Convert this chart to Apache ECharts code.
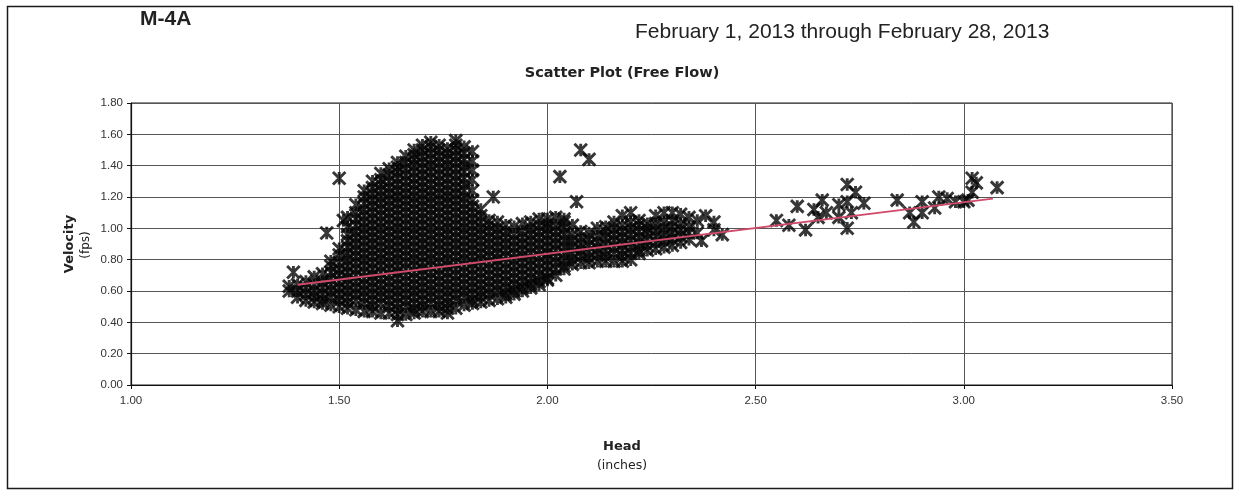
<!DOCTYPE html>
<html>
<head>
<meta charset="utf-8">
<title>M-4A Scatter Plot (Free Flow)</title>
<script src="https://cdn.jsdelivr.net/npm/echarts@6/dist/echarts.min.js"></script>
<style>
  html, body { margin: 0; padding: 0; background: #fff; }
  #chart { width: 1240px; height: 498px; }
</style>
</head>
<body>
<div id="chart"></div>
<script>
// Axis ticks
const headTicks = [1.00, 1.50, 2.00, 2.50, 3.00, 3.50];
const velocityTicks = [0.00, 0.20, 0.40, 0.60, 0.80, 1.00, 1.20, 1.40, 1.60, 1.80];

// Main cloud of readings, low-head part (head, [velocities])
const peakColumns = [
  [1.38, [0.60, 0.63]],
  [1.40, [0.56, 0.60, 0.64]],
  [1.42, [0.54, 0.58, 0.62, 0.66]],
  [1.44, [0.53, 0.56, 0.60, 0.64, 0.69]],
  [1.46, [0.52, 0.54, 0.58, 0.62, 0.66, 0.71]],
  [1.48, [0.51, 0.56, 0.60, 0.64, 0.68, 0.72, 0.76, 0.79]],
  [1.50, [0.50, 0.54, 0.58, 0.62, 0.66, 0.70, 0.74, 0.78, 0.83, 0.87]],
  [1.52, [0.49, 0.52, 0.56, 0.60, 0.64, 0.68, 0.72, 0.76, 0.80, 0.84, 0.88, 0.92, 0.96, 1.01, 1.07]],
  [1.54, [0.48, 0.54, 0.58, 0.62, 0.66, 0.70, 0.74, 0.78, 0.82, 0.86, 0.90, 0.94, 0.98, 1.02, 1.06, 1.10, 1.15]],
  [1.56, [0.47, 0.52, 0.56, 0.60, 0.64, 0.68, 0.72, 0.76, 0.80, 0.84, 0.88, 0.92, 0.96, 1.00, 1.04, 1.08, 1.12, 1.16, 1.20, 1.24]],
  [1.58, [0.47, 0.50, 0.54, 0.58, 0.62, 0.66, 0.70, 0.74, 0.78, 0.82, 0.86, 0.90, 0.94, 0.98, 1.02, 1.06, 1.10, 1.14, 1.18, 1.22, 1.26, 1.30]],
  [1.60, [0.46, 0.52, 0.56, 0.60, 0.64, 0.68, 0.72, 0.76, 0.80, 0.84, 0.88, 0.92, 0.96, 1.00, 1.04, 1.08, 1.12, 1.16, 1.20, 1.24, 1.28, 1.31, 1.35]],
  [1.62, [0.46, 0.50, 0.54, 0.58, 0.62, 0.66, 0.70, 0.74, 0.78, 0.82, 0.86, 0.90, 0.94, 0.98, 1.02, 1.06, 1.10, 1.14, 1.18, 1.22, 1.26, 1.30, 1.34, 1.38]],
  [1.64, [0.41, 0.45, 0.48, 0.52, 0.56, 0.60, 0.64, 0.68, 0.72, 0.76, 0.80, 0.84, 0.88, 0.92, 0.96, 1.00, 1.04, 1.08, 1.12, 1.16, 1.20, 1.24, 1.28, 1.32, 1.36, 1.39, 1.42]],
  [1.66, [0.45, 0.50, 0.54, 0.58, 0.62, 0.66, 0.70, 0.74, 0.78, 0.82, 0.86, 0.90, 0.94, 0.98, 1.02, 1.06, 1.10, 1.14, 1.18, 1.22, 1.26, 1.30, 1.34, 1.38, 1.42, 1.46]],
  [1.68, [0.46, 0.48, 0.52, 0.56, 0.60, 0.64, 0.68, 0.72, 0.76, 0.80, 0.84, 0.88, 0.92, 0.96, 1.00, 1.04, 1.08, 1.12, 1.16, 1.20, 1.24, 1.28, 1.32, 1.36, 1.40, 1.44, 1.47, 1.50]],
  [1.70, [0.47, 0.50, 0.54, 0.58, 0.62, 0.66, 0.70, 0.74, 0.78, 0.82, 0.86, 0.90, 0.94, 0.98, 1.02, 1.06, 1.10, 1.14, 1.18, 1.22, 1.26, 1.30, 1.34, 1.38, 1.42, 1.46, 1.50, 1.53]],
  [1.72, [0.47, 0.52, 0.56, 0.60, 0.64, 0.68, 0.72, 0.76, 0.80, 0.84, 0.88, 0.92, 0.96, 1.00, 1.04, 1.08, 1.12, 1.16, 1.20, 1.24, 1.28, 1.32, 1.36, 1.40, 1.44, 1.48, 1.52, 1.55]],
  [1.74, [0.47, 0.50, 0.54, 0.58, 0.62, 0.66, 0.70, 0.74, 0.78, 0.82, 0.86, 0.90, 0.94, 0.98, 1.02, 1.06, 1.10, 1.14, 1.18, 1.22, 1.26, 1.30, 1.34, 1.38, 1.42, 1.46, 1.50, 1.53]],
  [1.76, [0.46, 0.49, 0.52, 0.56, 0.60, 0.64, 0.68, 0.72, 0.76, 0.80, 0.84, 0.88, 0.92, 0.96, 1.00, 1.04, 1.08, 1.12, 1.16, 1.20, 1.24, 1.28, 1.32, 1.36, 1.40, 1.44, 1.48, 1.51]],
  [1.78, [0.49, 0.54, 0.58, 0.62, 0.66, 0.70, 0.74, 0.78, 0.82, 0.86, 0.90, 0.94, 0.98, 1.02, 1.06, 1.10, 1.14, 1.18, 1.22, 1.26, 1.30, 1.34, 1.38, 1.42, 1.46, 1.50, 1.53, 1.56]],
  [1.80, [0.51, 0.56, 0.60, 0.64, 0.68, 0.72, 0.76, 0.80, 0.84, 0.88, 0.92, 0.96, 1.00, 1.04, 1.08, 1.12, 1.16, 1.20, 1.24, 1.28, 1.32, 1.36, 1.40, 1.44, 1.48, 1.52]],
  [1.82, [0.52, 0.54, 0.58, 0.62, 0.66, 0.70, 0.74, 0.78, 0.82, 0.86, 0.90, 0.94, 0.98, 1.02, 1.06, 1.10, 1.14, 1.18, 1.24, 1.31, 1.37, 1.43, 1.49]]
];

// Main cloud, shelf toward higher head
const shelfColumns = [
  [1.84, [0.53, 0.56, 0.60, 0.64, 0.68, 0.72, 0.76, 0.80, 0.84, 0.88, 0.92, 0.96, 1.00, 1.04, 1.08, 1.12]],
  [1.86, [0.54, 0.58, 0.62, 0.66, 0.70, 0.74, 0.78, 0.82, 0.86, 0.90, 0.94, 0.98, 1.02, 1.05]],
  [1.88, [0.55, 0.60, 0.64, 0.68, 0.72, 0.76, 0.80, 0.84, 0.88, 0.92, 0.96, 1.00, 1.04]],
  [1.90, [0.56, 0.58, 0.62, 0.66, 0.70, 0.74, 0.78, 0.82, 0.86, 0.90, 0.94, 0.98, 1.02]],
  [1.92, [0.58, 0.60, 0.64, 0.68, 0.72, 0.76, 0.80, 0.84, 0.88, 0.92, 0.96, 1.01]],
  [1.94, [0.60, 0.62, 0.66, 0.70, 0.74, 0.78, 0.82, 0.86, 0.90, 0.94, 0.98, 1.03]],
  [1.96, [0.62, 0.64, 0.68, 0.72, 0.76, 0.80, 0.84, 0.88, 0.92, 0.96, 1.00, 1.04]],
  [1.98, [0.64, 0.66, 0.70, 0.74, 0.78, 0.82, 0.86, 0.90, 0.94, 0.98, 1.02, 1.06]],
  [2.00, [0.67, 0.68, 0.72, 0.76, 0.80, 0.84, 0.88, 0.92, 0.96, 1.00, 1.03, 1.06]],
  [2.02, [0.70, 0.74, 0.78, 0.82, 0.86, 0.90, 0.94, 0.98, 1.02, 1.07]],
  [2.04, [0.74, 0.76, 0.80, 0.84, 0.88, 0.92, 0.96, 1.00, 1.04, 1.06]],
  [2.06, [0.77, 0.80, 0.84, 0.88, 0.92, 0.96, 1.02]],
  [2.08, [0.78, 0.82, 0.86, 0.90, 0.94, 0.98]],
  [2.10, [0.78, 0.81, 0.85, 0.89, 0.93, 0.97]],
  [2.12, [0.79, 0.83, 0.87, 0.91, 0.95, 1.00]],
  [2.14, [0.79, 0.82, 0.86, 0.90, 0.94, 0.98, 1.01]],
  [2.16, [0.79, 0.84, 0.88, 0.92, 0.96, 1.00, 1.04]],
  [2.18, [0.79, 0.82, 0.86, 0.90, 0.94, 0.98, 1.02, 1.08]],
  [2.20, [0.80, 0.84, 0.88, 0.92, 0.96, 1.00, 1.04, 1.10]],
  [2.22, [0.84, 0.86, 0.90, 0.94, 0.98, 1.02, 1.05]],
  [2.24, [0.86, 0.89, 0.93, 0.97, 1.00, 1.03]],
  [2.26, [0.87, 0.91, 0.95, 0.99, 1.03, 1.08]],
  [2.28, [0.88, 0.92, 0.96, 1.00, 1.04, 1.10]],
  [2.30, [0.89, 0.93, 0.97, 1.01, 1.05, 1.10]],
  [2.32, [0.91, 0.95, 0.99, 1.03, 1.09]],
  [2.34, [0.93, 0.97, 1.01, 1.07]]
];

// Scattered individual readings around the cloud
const strayPoints = [
  [1.39, 0.72], [1.47, 0.97], [1.50, 1.32], [1.51, 1.05], [1.87, 1.20],
  [2.03, 1.33], [2.07, 1.17], [2.08, 1.50], [2.10, 1.44],
  [2.36, 0.97], [2.36, 1.05], [2.37, 0.92], [2.38, 1.08], [2.40, 1.04],
  [2.40, 0.99], [2.42, 0.96]
];

// Readings at high head
const highHeadPoints = [
  [2.55, 1.05], [2.58, 1.02], [2.60, 1.14], [2.62, 0.99], [2.64, 1.12],
  [2.66, 1.18], [2.65, 1.07], [2.67, 1.10], [2.70, 1.15], [2.70, 1.07],
  [2.72, 1.28], [2.74, 1.23], [2.72, 1.17], [2.73, 1.10], [2.72, 1.00],
  [2.76, 1.16], [2.84, 1.18], [2.87, 1.10], [2.88, 1.04], [2.90, 1.10],
  [2.90, 1.17], [2.93, 1.13], [2.94, 1.20], [2.96, 1.19], [2.98, 1.17],
  [3.00, 1.17], [3.01, 1.18], [3.02, 1.23], [3.02, 1.32], [3.03, 1.29],
  [3.08, 1.26]
];

// Linear trend through the readings
const trendLine = [[1.40, 0.64], [3.07, 1.19]];

function expandColumns(columns) {
  const points = [];
  columns.forEach(([head, velocities]) => {
    velocities.forEach(v => points.push([head, v]));
  });
  return points;
}

const readings = expandColumns(peakColumns)
  .concat(expandColumns(shelfColumns))
  .concat(strayPoints)
  .concat(highHeadPoints);

const chart = echarts.init(document.getElementById('chart'), null, { renderer: 'canvas' });

const tickFont = { fontFamily: 'Liberation Sans', fontSize: 11.5, color: '#333' };
const gridLine = { show: true, lineStyle: { color: '#555', width: 1 } };

const option = {
  animation: false,
  backgroundColor: '#ffffff',
  grid: {
    left: 131, right: 68, top: 103, bottom: 113,
    show: true, borderColor: '#1a1a1a', borderWidth: 1, backgroundColor: 'transparent'
  },
  xAxis: {
    type: 'value',
    min: headTicks[0], max: headTicks[headTicks.length - 1], interval: 0.5,
    axisLine: { show: true, onZero: false, lineStyle: { color: '#111', width: 1.2 } },
    axisTick: { show: true, length: 4, lineStyle: { color: '#111' } },
    axisLabel: Object.assign({ margin: 10, formatter: v => v.toFixed(2) }, tickFont),
    splitLine: gridLine
  },
  yAxis: {
    type: 'value',
    min: velocityTicks[0], max: velocityTicks[velocityTicks.length - 1], interval: 0.2,
    axisLine: { show: true, onZero: false, lineStyle: { color: '#111', width: 1.2 } },
    axisTick: { show: true, length: 4, lineStyle: { color: '#111' } },
    axisLabel: Object.assign({ margin: 8, formatter: v => v.toFixed(2) }, tickFont),
    splitLine: gridLine
  },
  graphic: [
    { type: 'rect', shape: { x: 7.5, y: 6.5, width: 1225, height: 482 },
      style: { fill: 'none', stroke: '#1a1a1a', lineWidth: 1.5 }, silent: true, z: 0 },
    { type: 'text', x: 140, y: 19,
      style: { text: 'M-4A', font: 'bold 21px "Liberation Sans"', fill: '#222', textAlign: 'left', textVerticalAlign: 'middle' } },
    { type: 'text', x: 635, y: 32,
      style: { text: 'February 1, 2013 through February 28, 2013', font: '21px "Liberation Sans"', fill: '#222', textAlign: 'left', textVerticalAlign: 'middle' } },
    { type: 'text', x: 622, y: 73,
      style: { text: 'Scatter Plot (Free Flow)', font: 'bold 14.5px "DejaVu Sans"', fill: '#222', textAlign: 'center', textVerticalAlign: 'middle' } },
    { type: 'text', x: 70, y: 244, rotation: Math.PI / 2,
      style: { text: 'Velocity', font: 'bold 13px "DejaVu Sans"', fill: '#222', textAlign: 'center', textVerticalAlign: 'middle' } },
    { type: 'text', x: 86, y: 245, rotation: Math.PI / 2,
      style: { text: '(fps)', font: '12px "DejaVu Sans"', fill: '#222', textAlign: 'center', textVerticalAlign: 'middle' } },
    { type: 'text', x: 622, y: 447,
      style: { text: 'Head', font: 'bold 13px "DejaVu Sans"', fill: '#222', textAlign: 'center', textVerticalAlign: 'middle' } },
    { type: 'text', x: 622, y: 466,
      style: { text: '(inches)', font: '12.5px "DejaVu Sans"', fill: '#222', textAlign: 'center', textVerticalAlign: 'middle' } }
  ],
  series: [
    {
      name: 'Velocity',
      type: 'scatter',
      data: readings,
      symbol: 'path://M0,0L10,10M10,0L0,10M5,0L5,10',
      symbolSize: 12.5,
      symbolKeepAspect: true,
      itemStyle: { color: 'rgba(0,0,0,0)', borderColor: '#050505', borderWidth: 2.9 },
      emphasis: { disabled: true },
      silent: true,
      z: 2
    },
    {
      name: 'Trend',
      type: 'line',
      data: trendLine,
      symbol: 'none',
      lineStyle: { color: '#d04a6c', width: 1.8 },
      emphasis: { disabled: true },
      silent: true,
      z: 3
    }
  ]
};

chart.setOption(option);
</script>
</body>
</html>
